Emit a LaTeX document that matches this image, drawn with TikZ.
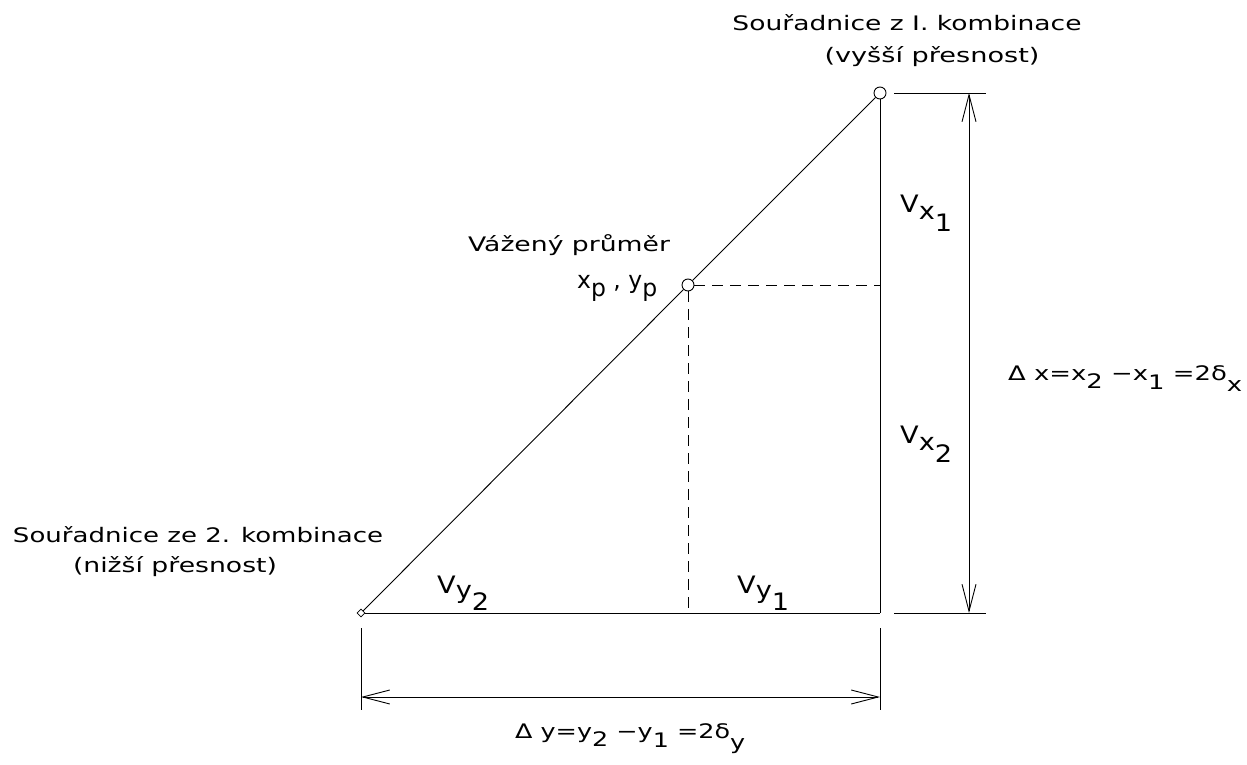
\documentclass[tikz,border=0pt]{standalone}
\usepackage{fontspec}
\setmainfont{DejaVu Sans}
\usetikzlibrary{arrows.meta,shapes.geometric}
\newcommand\dn[2]{\raisebox{-#1pt}{#2}}
\newcommand\fitw[2]{\resizebox{#1pt}{\height}{#2}}
\tikzset{
  lbl/.style={inner sep=0pt, anchor=base, font=\fontsize{20}{22}\selectfont},
  lblw/.style={inner sep=0pt, anchor=base west, font=\fontsize{20}{22}\selectfont},
  vlbl/.style={inner sep=0pt, anchor=base west, font=\fontsize{24}{26}\selectfont},
  thinline/.style={line width=0.9pt, black},
  dashline/.style={line width=0.9pt, black, dash pattern=on 11pt off 7pt},
  dimline/.style={line width=0.9pt, black, {Straight Barb[length=27pt,width=14pt]}-{Straight Barb[length=27pt,width=14pt]}},
  ptc/.style={circle, draw, line width=0.9pt, minimum size=12pt, inner sep=0pt},
  ptd/.style={diamond, draw, line width=0.8pt, minimum size=8pt, inner sep=0pt},
}
\begin{document}
\begin{tikzpicture}[x=1pt,y=-1pt]
\useasboundingbox (0,0) rectangle (1247,765);
% points
\node[ptc] (A) at (880,93) {};
\node[ptd] (B) at (361,613) {};
\node[ptc] (M) at (688,285) {};
\coordinate (C) at (880,613);
\coordinate (MR) at (880,285);
\coordinate (MB) at (688,613);
% triangle
\draw[thinline] (B) -- (M);
\draw[thinline] (M) -- (A);
\draw[thinline] (A) -- (C);
\draw[thinline] (B) -- (C);
% dashed
\draw[dashline] (M) -- (MR);
\draw[dashline] (M) -- (MB);
% right dimension
\coordinate (et1) at (894,93);
\coordinate (et2) at (986,93);
\coordinate (eb1) at (894,613);
\coordinate (eb2) at (986,613);
\coordinate (dt) at (969,93);
\coordinate (db) at (969,613);
\draw[thinline] (et1) -- (et2);
\draw[thinline] (eb1) -- (eb2);
\draw[dimline] (dt) -- (db);
% bottom dimension
\coordinate (el1) at (361,628);
\coordinate (el2) at (361,710);
\coordinate (er1) at (880,628);
\coordinate (er2) at (880,710);
\coordinate (dl) at (361,697);
\coordinate (dr) at (880,697);
\draw[thinline] (el1) -- (el2);
\draw[thinline] (er1) -- (er2);
\draw[dimline] (dl) -- (dr);
% labels
\node[lbl] (t1) at (907,31) {\fitw{349}{Souřadnice z I. kombinace}};
\node[lbl] (t2) at (932,63) {\fitw{215}{(vyšší přesnost)}};
\node[lbl] (l1) at (198,542) {\fitw{370}{Souřadnice ze 2. kombinace}};
\node[lbl] (l2) at (175,572) {\fitw{204}{(nižší přesnost)}};
\node[lbl] (w1) at (569,251) {\fitw{202}{Vážený průměr}};
\node[vlbl] (w2) at (577,288) {\fitw{80}{x\dn{8}{p} , y\dn{8}{p}}};
\node[vlbl] (vx1) at (900,212) {\fitw{52}{V\dn{7}{x\dn{12}{1}}}};
\node[vlbl] (vx2) at (900,443) {\fitw{52}{V\dn{7}{x\dn{12}{2}}}};
\node[vlbl] (vy1) at (737,593) {\fitw{52}{V\dn{5}{y\dn{12}{1}}}};
\node[vlbl] (vy2) at (437,593) {\fitw{52}{V\dn{5}{y\dn{12}{2}}}};
\node[lblw] (dx) at (1008,380) {\fitw{234}{Δ x=x\dn{8}{2} −x\dn{9}{1} =2δ\dn{11}{x}}};
\node[lblw] (dy) at (515,738) {\fitw{230}{Δ y=y\dn{8}{2} −y\dn{9}{1} =2δ\dn{11}{y}}};
\end{tikzpicture}
\end{document}
